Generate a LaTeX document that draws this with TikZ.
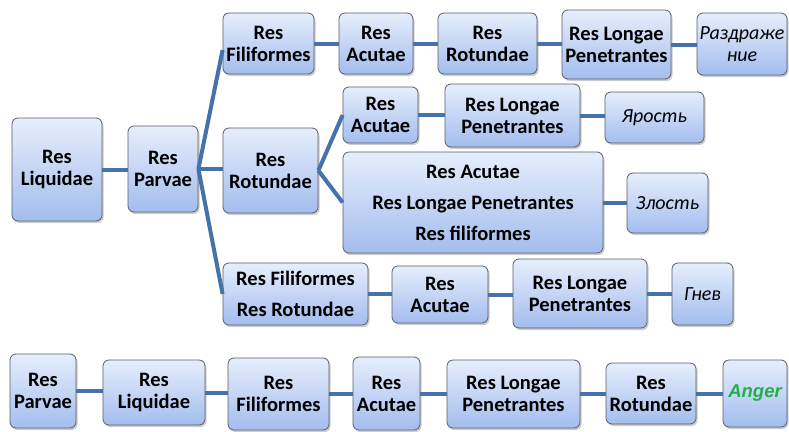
\documentclass[tikz,border=0pt]{standalone}
\usepackage{fontspec}
\setmainfont{Carlito}
\newfontfamily\angerfont{Liberation Sans}
\usetikzlibrary{shadows}
\definecolor{boxtop}{HTML}{E6EEFC}
\definecolor{boxbot}{HTML}{A3BDEE}
\definecolor{boxline}{HTML}{5A5E66}
\definecolor{linkcol}{HTML}{4672AC}
\definecolor{angergreen}{HTML}{22B04C}
\tikzset{
  box/.style={draw=boxline, line width=0.8pt, rounded corners=6pt,
    top color=boxtop, bottom color=boxbot, align=center, inner sep=0pt,
    font=\fontsize{20.5}{22}\selectfont\bfseries,
    drop shadow={shadow xshift=1.5pt, shadow yshift=-2pt, opacity=0.4, fill=gray}},
  wide/.style={font=\fontsize{20.5}{31}\selectfont\bfseries},
  rus/.style={font=\fontsize{20}{22}\selectfont\itshape},
  link/.style={draw=linkcol, line width=4pt},
  sz/.style 2 args={minimum width=#1pt, minimum height=#2pt}
}
\begin{document}
\begin{tikzpicture}[x=1pt,y=-1pt]
\useasboundingbox (0,0) rectangle (789,431);
% top tree
\node[box, sz={90}{103}] (liq) at (57,169.5) {Res\\Liquidae};
\node[box, sz={70}{86}] (parv) at (163,169) {Res\\Parvae};
\node[box, sz={91}{61}] (fil1) at (268.5,43.5) {Res\\Filiformes};
\node[box, sz={74}{61}] (acu1) at (376,43.5) {Res\\Acutae};
\node[box, sz={99}{61}] (rot1) at (487.5,43.5) {Res\\Rotundae};
\node[box, sz={109}{69}] (lp1) at (616.5,44.5) {Res Longae\\Penetrantes};
\node[box, rus, sz={90}{62}] (razd) at (742,44) {Раздраже\\ние};
\node[box, sz={95}{85}] (rot2) at (270.5,170.5) {Res\\Rotundae};
\node[box, sz={75}{56}] (acu2) at (380.5,115) {Res\\Acutae};
\node[box, sz={135}{63}] (lp2) at (512.5,115.5) {Res Longae\\Penetrantes};
\node[box, rus, sz={99}{51}] (yar) at (654.5,117.5) {Ярость};
\node[box, wide, sz={260}{101}] (big) at (473,202.5) {Res Acutae\\Res Longae Penetrantes\\Res filiformes};
\node[box, rus, sz={81}{60}] (zlo) at (667.5,203) {Злость};
\node[box, wide, sz={145}{62}] (filrot) at (295.5,294) {Res Filiformes\\Res Rotundae};
\node[box, sz={96}{57}] (acu3) at (440,294.5) {Res\\Acutae};
\node[box, sz={134}{69}] (lp3) at (580,293.5) {Res Longae\\Penetrantes};
\node[box, rus, sz={61}{62}] (gnev) at (702.5,294) {Гнев};
% bottom row
\node[box, sz={66}{74}] (bparv) at (43,391) {Res\\Parvae};
\node[box, sz={102}{65}] (bliq) at (154,392.5) {Res\\Liquidae};
\node[box, sz={101}{72}] (bfil) at (278.5,394) {Res\\Filiformes};
\node[box, sz={67}{73}] (bacu) at (386.5,393.5) {Res\\Acutae};
\node[box, sz={133}{68}] (blp) at (513.5,394) {Res Longae\\Penetrantes};
\node[box, sz={90}{61}] (brot) at (651,393.5) {Res\\Rotundae};
\node[box, sz={64}{67}, font=\angerfont\fontsize{18.5}{20}\selectfont\bfseries\itshape, text=angergreen] (anger) at (755,393.5) {Anger};
% connectors
\path[link] (liq.east) -- (liq.east -| parv.west);
\path[link] (parv.east) -- ([yshift=-6.5pt]fil1.west);
\path[link] (parv.east) -- (parv.east -| rot2.west);
\path[link] (parv.east) -- (filrot.west);
\path[link] (fil1.east) -- (fil1.east -| acu1.west);
\path[link] (acu1.east) -- (acu1.east -| rot1.west);
\path[link] (rot1.east) -- (rot1.east -| lp1.west);
\path[link] (lp1.east) -- (lp1.east -| razd.west);
\path[link] (rot2.east) -- (acu2.west);
\path[link] (rot2.east) -- (big.west);
\path[link] (acu2.east) -- (acu2.east -| lp2.west);
\path[link] (lp2.east) -- (lp2.east -| yar.west);
\path[link] (big.east) -- (big.east -| zlo.west);
\path[link] (filrot.east) -- (filrot.east -| acu3.west);
\path[link] (acu3.east) -- (acu3.east -| lp3.west);
\path[link] (lp3.east) -- (lp3.east -| gnev.west);
\path[link] (bparv.east) -- (bparv.east -| bliq.west);
\path[link] (bliq.east) -- (bliq.east -| bfil.west);
\path[link] (bfil.east) -- (bfil.east -| bacu.west);
\path[link] (bacu.east) -- (bacu.east -| blp.west);
\path[link] (blp.east) -- (blp.east -| brot.west);
\path[link] (brot.east) -- (brot.east -| anger.west);
\end{tikzpicture}
\end{document}
